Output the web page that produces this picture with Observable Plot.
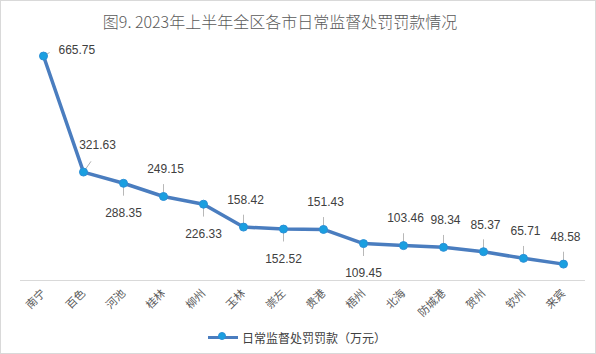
<!DOCTYPE html>
<html><head><meta charset="utf-8">
<script src="https://cdn.jsdelivr.net/npm/d3@7"></script>
<script src="https://cdn.jsdelivr.net/npm/@observablehq/plot@0.6"></script>
<style>
body{margin:0;background:#fff;}
#chart{box-sizing:border-box;width:596px;height:354px;border:1px solid #d9d9d9;overflow:hidden;font-family:"Noto Sans CJK SC",sans-serif;background:#fff;}
#title{height:36px;line-height:40px;text-align:center;padding-right:36px;font-size:16px;color:#595959;white-space:nowrap;font-weight:300;}
#plot{height:285px;}
#legend{height:30px;display:flex;align-items:center;justify-content:center;padding-right:2px;font-size:12px;color:#404040;}
.sw{position:relative;width:30px;height:3px;background:#4a7dbf;margin-right:4px;}
.sw::after{content:"";position:absolute;left:10px;top:-3.5px;width:8px;height:8px;border-radius:50%;background:#1a9fe0;border:1px solid #2b8fd6;box-sizing:border-box;}
</style></head>
<body>
<div id="chart">
  <div id="title">图9. 2023年上半年全区各市日常监督处罚罚款情况</div>
  <div id="plot"></div>
  <div id="legend"><span class="sw"></span><span>日常监督处罚罚款（万元）</span></div>
</div>
<script>
const cities = ["南宁","百色","河池","桂林","柳州","玉林","崇左","贵港","梧州","北海","防城港","贺州","钦州","来宾"];
const fines = [665.75,321.63,288.35,249.15,226.33,158.42,152.52,151.43,109.45,103.46,98.34,85.37,65.71,48.58];
const labelSide = ["right","aboveRight","below","above","below","above","below","above","below","above","above","above","above","above"];

const data = cities.map((c, i) => ({city: c, value: fines[i], side: labelSide[i]}));
const above = data.filter(d => d.side === "above");
const aboveRight = data.filter(d => d.side === "aboveRight");
const below = data.filter(d => d.side === "below");
const right = data.filter(d => d.side === "right");
const leader = {draw(context, l) { context.moveTo(0, 0); context.lineTo(0, -l); }};
const fmt = d => d.value.toFixed(2);
const rot = {above: 0, below: 180, right: 60, aboveRight: 35};
const len = {above: 18, below: 18, right: 10, aboveRight: 19};

const chart = Plot.plot({
  width: 592,
  height: 285,
  marginTop: 7,
  marginBottom: 42,
  marginLeft: 19,
  marginRight: 8,
  style: {fontFamily: "'Liberation Sans', 'Noto Sans CJK SC', sans-serif", fontSize: "11px", color: "#595959", background: "transparent"},
  x: {type: "point", domain: cities, padding: 0.5, tickRotate: -45, tickSize: 0, tickPadding: 11, label: null},
  y: {domain: [0, 700], axis: null},
  marks: [
    Plot.ruleY([0], {stroke: "#d9d9d9"}),
    Plot.line(data, {x: "city", y: "value", stroke: "#4a7dbf", strokeWidth: 3.5}),
    Plot.vector(data, {x: "city", y: "value", anchor: "start", shape: leader,
      length: d => len[d.side], rotate: d => rot[d.side],
      stroke: "#a6a6a6", strokeWidth: 0.8}),
    Plot.dot(data, {x: "city", y: "value", r: 4, fill: "#1a9fe0", stroke: "#2b8fd6", strokeWidth: 1}),
    Plot.text(above, {x: "city", y: "value", text: fmt, dy: -27, dx: 2, fill: "#404040", fontSize: 12}),
    Plot.text(aboveRight, {x: "city", y: "value", text: fmt, dy: -27, dx: 14, fill: "#404040", fontSize: 12}),
    Plot.text(below, {x: "city", y: "value", text: fmt, dy: 30, fill: "#404040", fontSize: 12}),
    Plot.text(right, {x: "city", y: "value", text: fmt, dx: 15, dy: -6, textAnchor: "start", fill: "#404040", fontSize: 12})
  ]
});
document.getElementById("plot").appendChild(chart);
</script>
</body></html>
